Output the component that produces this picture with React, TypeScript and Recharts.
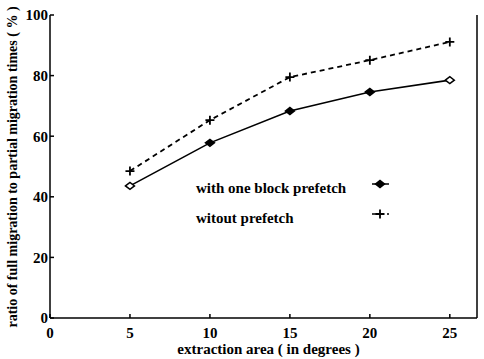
import { Label, Legend, Line, LineChart, XAxis, YAxis } from "recharts";

const extraction = [5, 10, 15, 20, 25];
const withPrefetch = [43.6, 57.8, 68.3, 74.6, 78.5];
const withoutPrefetch = [48.5, 65.3, 79.5, 85.1, 91.1];
const xTicks = [0, 5, 10, 15, 20, 25];
const yTicks = [0, 20, 40, 60, 80, 100];
const seriesNames = ["with one block prefetch", "witout prefetch"];
// the scan shows the end diamonds open, the middle ones filled
const hollowIdx = [0, 4];

const data = extraction.map((x, i) => ({
	x,
	prefetch: withPrefetch[i],
	noPrefetch: withoutPrefetch[i],
}));

const FONT = "Liberation Serif";
const tickStyle = { fontFamily: FONT, fontSize: 15, fontWeight: "bold", fill: "#000" };

function Diamond({ cx, cy, hollow }: { cx: number; cy: number; hollow?: boolean }) {
	return (
		<path
			d={`M${cx - 4.5},${cy} L${cx},${cy - 3.5} L${cx + 4.5},${cy} L${cx},${cy + 3.5} Z`}
			fill={hollow ? "#fff" : "#000"}
			stroke="#000"
			strokeWidth={1.5}
		/>
	);
}

function Plus({ cx, cy }: { cx: number; cy: number }) {
	return (
		<path
			d={`M${cx - 4.5},${cy} H${cx + 4.5} M${cx},${cy - 4.5} V${cy + 4.5}`}
			stroke="#000"
			strokeWidth={1.8}
			fill="none"
		/>
	);
}

function LegendBox() {
	return (
		<svg width={220} height={60} style={{ overflow: "visible" }}>
			<text x={6} y={23} fontFamily={FONT} fontSize={15} fontWeight="bold">
				{seriesNames[0]}
			</text>
			<line x1={182} y1={14} x2={199} y2={14} stroke="#000" strokeWidth={1.5} />
			<Diamond cx={190} cy={14} />
			<text x={6} y={53} fontFamily={FONT} fontSize={15} fontWeight="bold">
				{seriesNames[1]}
			</text>
			<line x1={182} y1={44} x2={200} y2={44} stroke="#000" strokeWidth={1.5} strokeDasharray="9 6 2" />
			<Plus cx={190} cy={44} />
		</svg>
	);
}

export default function App() {
	return (
		<div style={{ position: "absolute", left: 0, top: 0, background: "#fff" }}>
			<LineChart width={484} height={359} data={data} margin={{ top: 15, right: 0, left: 0, bottom: 0 }}>
				<XAxis
					xAxisId="b"
					type="number"
					dataKey="x"
					domain={[0, 26.7]}
					ticks={xTicks}
					height={41}
					stroke="#000"
					strokeWidth={1.5}
					tickSize={-4}
					tickMargin={13}
					tick={tickStyle}
				>
					<Label
						content={({ viewBox }: any) => (
							<text
								x={viewBox.x + viewBox.width / 2 + 5}
								y={viewBox.y + 36}
								textAnchor="middle"
								fontFamily={FONT}
								fontSize={15}
								fontWeight="bold"
							>
								extraction area ( in degrees )
							</text>
						)}
					/>
				</XAxis>
				<XAxis
					xAxisId="t"
					orientation="top"
					type="number"
					dataKey="x"
					domain={[0, 26.7]}
					ticks={xTicks}
					height={0}
					stroke="#000"
					strokeWidth={1.5}
					tickSize={-4}
					tick={() => <g />}
				/>
				<YAxis
					yAxisId="l"
					type="number"
					domain={[0, 100]}
					ticks={yTicks}
					width={50}
					stroke="#000"
					strokeWidth={1.5}
					tickSize={-4}
					tickMargin={6}
					tick={tickStyle}
				>
					<Label
						content={() => (
							<text
								transform="translate(17,167) rotate(-90)"
								textAnchor="middle"
								fontFamily={FONT}
								fontSize={14}
								fontWeight="bold"
							>
								ratio of full migration to partial migration times ( % )
							</text>
						)}
					/>
				</YAxis>
				<YAxis
					yAxisId="r"
					orientation="right"
					type="number"
					domain={[0, 100]}
					ticks={yTicks}
					width={7}
					stroke="#000"
					strokeWidth={1.5}
					tickSize={-4}
					tick={() => <g />}
				/>
				<Line
					xAxisId="b"
					yAxisId="l"
					dataKey="prefetch"
					name={seriesNames[0]}
					stroke="#000"
					strokeWidth={1.6}
					isAnimationActive={false}
					dot={(p: any) => (
						<Diamond key={p.index} cx={p.cx} cy={p.cy} hollow={hollowIdx.includes(p.index)} />
					)}
				/>
				<Line
					xAxisId="b"
					yAxisId="l"
					dataKey="noPrefetch"
					name={seriesNames[1]}
					stroke="#000"
					strokeWidth={1.8}
					strokeDasharray="5 4"
					isAnimationActive={false}
					dot={(p: any) => <Plus key={p.index} cx={p.cx} cy={p.cy} />}
				/>
				<Legend
					layout="vertical"
					align="center"
					verticalAlign="middle"
					wrapperStyle={{ left: 190, top: 170, width: 220, height: 60 }}
					content={() => <LegendBox />}
				/>
			</LineChart>
		</div>
	);
}
